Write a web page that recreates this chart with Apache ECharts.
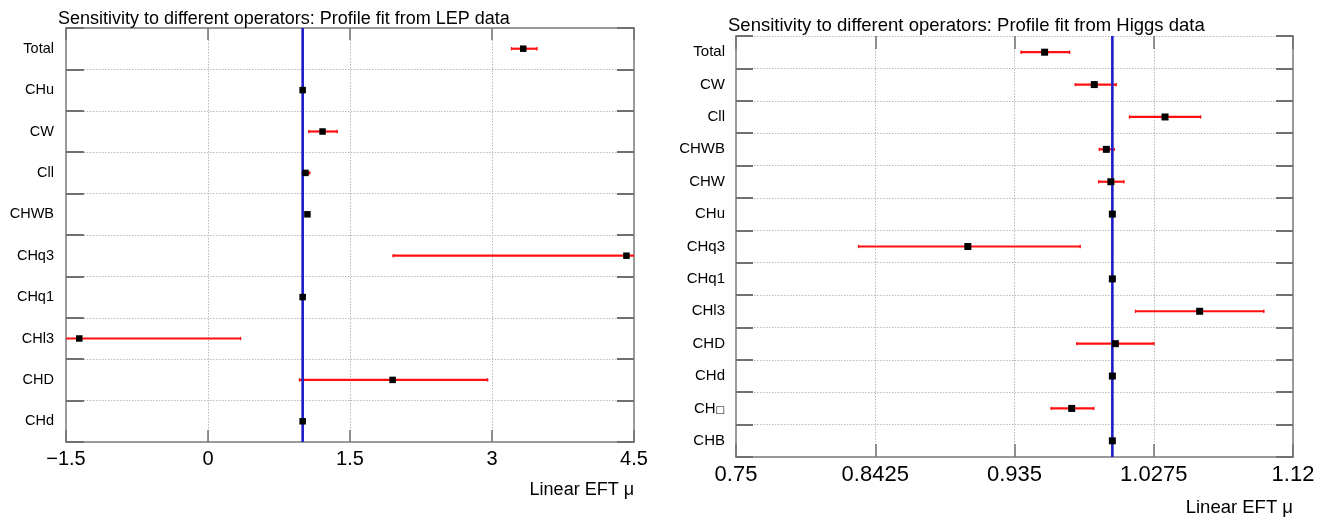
<!DOCTYPE html>
<html>
<head>
<meta charset="utf-8">
<script src="https://cdn.jsdelivr.net/npm/echarts@6/dist/echarts.min.js"></script>
<style>
html,body{margin:0;padding:0;background:#fff;}
#chart{width:1324px;height:518px;}
</style>
</head>
<body>
<div id="chart"></div>
<script>
// ---------- data: LEP profile fit ----------
const lepCats    = ['Total','CHu','CW','Cll','CHWB','CHq3','CHq1','CHl3','CHD','CHd'];
const lepCentral = [3.33, 1.00, 1.21, 1.03, 1.05, 4.42, 1.00, -1.36, 1.95, 1.00];
const lepLow     = [3.20, 1.00, 1.06, 0.99, 1.05, 1.95, 1.00, -3.07, 0.96, 1.00];
const lepHigh    = [3.48, 1.00, 1.37, 1.08, 1.05, 6.90, 1.00, 0.35, 2.96, 1.00];
const lepTicks   = ['\u22121.5','0','1.5','3','4.5'];

// ---------- data: Higgs profile fit ----------
const higgsCats    = ['Total','CW','Cll','CHWB','CHW','CHu','CHq3','CHq1','CHl3','CHD','CHd','CH\u25A1','CHB'];
const higgsCentral = [0.955, 0.988, 1.035, 0.996, 0.999, 1.000, 0.904, 1.000, 1.058, 1.002, 1.000, 0.973, 1.000];
const higgsLow     = [0.939, 0.975, 1.011, 0.991, 0.9905, 1.000, 0.831, 1.000, 1.015, 0.976, 1.000, 0.959, 1.000];
const higgsHigh    = [0.972, 1.003, 1.059, 1.0016, 1.008, 1.000, 0.979, 1.000, 1.101, 1.028, 1.000, 0.988, 1.000];
const higgsTicks   = ['0.75','0.8425','0.935','1.0275','1.12'];

const smValue = [1];

// ---------- styling ----------
const FONT = 'Liberation Sans, Arial, Helvetica, sans-serif';
const FRAME = '#9a9a9a';
const TICK = '#707070';
const GRIDLINE = '#b8b8b8';
const RED = '#ff1010';
const BLUE = '#1c1cc8';

const chart = echarts.init(document.getElementById('chart'), null, {renderer:'canvas'});

function errorBarRender(params, api) {
  const cs = params.coordSys;
  const idx = api.value(2);
  const p1 = api.coord([api.value(0), idx]);
  const p2 = api.coord([api.value(1), idx]);
  let x1 = Math.max(cs.x, Math.min(cs.x + cs.width, p1[0]));
  let x2 = Math.max(cs.x, Math.min(cs.x + cs.width, p2[0]));
  const y = p1[1];
  if (x2 - x1 < 1.5) return null;
  const st = {stroke: RED, lineWidth: 2.2};
  const children = [{type:'line', shape:{x1:x1, y1:y, x2:x2, y2:y}, style:st}];
  if (p1[0] >= cs.x) children.push({type:'line', shape:{x1:x1+0.6, y1:y-1.7, x2:x1+0.6, y2:y+1.7}, style:{stroke:RED, lineWidth:1.2}});
  if (p2[0] <= cs.x + cs.width) children.push({type:'line', shape:{x1:x2-0.6, y1:y-1.7, x2:x2-0.6, y2:y+1.7}, style:{stroke:RED, lineWidth:1.2}});
  return {type:'group', children: children};
}

function smLineRender(params, api) {
  const cs = params.coordSys;
  const x = api.coord([api.value(0), 0])[0];
  return {type:'line', shape:{x1:x, y1:cs.y, x2:x, y2:cs.y + cs.height}, style:{stroke:BLUE, lineWidth:2.6}};
}

function catLabel(v) {
  return v.indexOf('\u25A1') >= 0 ? v.replace('\u25A1', '{box|\u25A1}') : v;
}

const lepMin = -1.5, lepMax = 4.5, lepStep = 1.5;

const option = {
  backgroundColor: '#ffffff',
  animation: false,
  title: [
    {text: 'Sensitivity to different operators: Profile fit from LEP data', left: 58, top: 10, padding: 0,
     textStyle: {fontFamily: FONT, fontSize: 18, fontWeight: 'normal', color: '#000'}},
    {text: 'Sensitivity to different operators: Profile fit from Higgs data', left: 728, top: 16, padding: 0,
     textStyle: {fontFamily: FONT, fontSize: 18.5, fontWeight: 'normal', color: '#000'}}
  ],
  grid: [
    {left: 66, top: 28, width: 568, height: 414, containLabel: false},
    {left: 736, top: 36, width: 557, height: 421, containLabel: false}
  ],
  xAxis: [
    { // 0: LEP bottom
      gridIndex: 0, type: 'value', position: 'bottom', min: lepMin, max: lepMax, interval: lepStep,
      axisLine: {show: true, onZero: false, lineStyle: {color: FRAME, width: 2}},
      axisTick: {show: true, inside: true, length: 12, lineStyle: {color: TICK, width: 1.5}},
      axisLabel: {fontFamily: FONT, fontSize: 20, color: '#000', margin: 7,
        formatter: v => lepTicks[Math.round((v - lepMin) / lepStep)]},
      splitLine: {show: true, lineStyle: {color: GRIDLINE, type: [1.5, 1.5], width: 1}},
      name: 'Linear EFT \u03bc', nameLocation: 'end', nameGap: 0,
      nameTextStyle: {fontFamily: FONT, fontSize: 18, color: '#000', align: 'right', verticalAlign: 'top', padding: [39, 0, 0, 0]}
    },
    { // 1: LEP top
      gridIndex: 0, type: 'value', position: 'top', min: lepMin, max: lepMax, interval: lepStep,
      axisLine: {show: true, onZero: false, lineStyle: {color: FRAME, width: 2}},
      axisTick: {show: true, inside: true, length: 12, lineStyle: {color: TICK, width: 1.5}},
      axisLabel: {show: false}, splitLine: {show: false}
    },
    { // 2: Higgs bottom (tick positions)
      gridIndex: 1, type: 'value', position: 'bottom', min: 0, max: higgsTicks.length - 1, interval: 1,
      axisLine: {show: true, onZero: false, lineStyle: {color: FRAME, width: 2}},
      axisTick: {show: true, inside: true, length: 13, lineStyle: {color: TICK, width: 1.5}},
      axisLabel: {fontFamily: FONT, fontSize: 22, color: '#000', margin: 7,
        formatter: v => higgsTicks[Math.round(v)]},
      splitLine: {show: true, lineStyle: {color: GRIDLINE, type: [1.5, 1.5], width: 1}},
      name: 'Linear EFT \u03bc', nameLocation: 'end', nameGap: 0,
      nameTextStyle: {fontFamily: FONT, fontSize: 18.5, color: '#000', align: 'right', verticalAlign: 'top', padding: [41, 0, 0, 0]}
    },
    { // 3: Higgs top
      gridIndex: 1, type: 'value', position: 'top', min: 0, max: higgsTicks.length - 1, interval: 1,
      axisLine: {show: false, onZero: false},
      axisTick: {show: true, inside: true, length: 13, lineStyle: {color: TICK, width: 1.5}},
      axisLabel: {show: false}, splitLine: {show: false}
    },
    { // 4: Higgs data scale
      gridIndex: 1, type: 'value', position: 'bottom', min: 0.75, max: 1.12, show: false,
      axisLine: {onZero: false}, splitLine: {show: false}
    }
  ],
  yAxis: [
    { // 0: LEP left
      gridIndex: 0, type: 'category', data: lepCats, inverse: true, position: 'left',
      axisLine: {show: true, onZero: false, lineStyle: {color: FRAME, width: 2}},
      axisTick: {show: true, inside: true, length: 18, lineStyle: {color: TICK, width: 2}},
      axisLabel: {fontFamily: FONT, fontSize: 14.5, color: '#000', margin: 12, formatter: catLabel,
        rich: {box: {fontFamily: 'DejaVu Sans', fontSize: 9, color: '#000', verticalAlign: 'bottom'}}},
      splitLine: {show: true, lineStyle: {color: GRIDLINE, type: [1.5, 1.5], width: 1}}
    },
    { // 1: LEP right
      gridIndex: 0, type: 'category', data: lepCats, inverse: true, position: 'right',
      axisLine: {show: true, onZero: false, lineStyle: {color: FRAME, width: 2}},
      axisTick: {show: true, inside: true, length: 17, lineStyle: {color: TICK, width: 2}},
      axisLabel: {show: false}, splitLine: {show: false}
    },
    { // 2: Higgs left
      gridIndex: 1, type: 'category', data: higgsCats, inverse: true, position: 'left',
      axisLine: {show: true, onZero: false, lineStyle: {color: FRAME, width: 2}},
      axisTick: {show: true, inside: true, length: 17, lineStyle: {color: TICK, width: 2}},
      axisLabel: {fontFamily: FONT, fontSize: 15, color: '#000', margin: 11, formatter: catLabel,
        rich: {box: {fontFamily: 'DejaVu Sans', fontSize: 10, color: '#000', verticalAlign: 'bottom', padding: [0,0,1,0]}}},
      splitLine: {show: true, lineStyle: {color: GRIDLINE, type: [1.5, 1.5], width: 1}}
    },
    { // 3: Higgs right
      gridIndex: 1, type: 'category', data: higgsCats, inverse: true, position: 'right',
      axisLine: {show: true, onZero: false, lineStyle: {color: FRAME, width: 2}},
      axisTick: {show: true, inside: true, length: 17, lineStyle: {color: TICK, width: 2}},
      axisLabel: {show: false}, splitLine: {show: false}
    }
  ],
  series: [
    {type: 'custom', name: 'LEP interval', xAxisIndex: 0, yAxisIndex: 0, z: 2, clip: true,
     renderItem: errorBarRender, encode: {x: [0, 1], y: 2},
     data: lepCats.map((c, i) => [lepLow[i], lepHigh[i], i])},
    {type: 'custom', name: 'LEP SM', xAxisIndex: 0, yAxisIndex: 0, z: 3,
     renderItem: smLineRender, encode: {x: 0}, data: smValue.map(v => [v])},
    {type: 'scatter', name: 'LEP best fit', xAxisIndex: 0, yAxisIndex: 0, z: 4,
     symbol: 'rect', symbolSize: 6.5, itemStyle: {color: '#000', opacity: 1},
     data: lepCats.map((c, i) => [lepCentral[i], i])},

    {type: 'custom', name: 'Higgs interval', xAxisIndex: 4, yAxisIndex: 2, z: 2, clip: true,
     renderItem: errorBarRender, encode: {x: [0, 1], y: 2},
     data: higgsCats.map((c, i) => [higgsLow[i], higgsHigh[i], i])},
    {type: 'custom', name: 'Higgs SM', xAxisIndex: 4, yAxisIndex: 2, z: 3,
     renderItem: smLineRender, encode: {x: 0}, data: smValue.map(v => [v])},
    {type: 'scatter', name: 'Higgs best fit', xAxisIndex: 4, yAxisIndex: 2, z: 4,
     symbol: 'rect', symbolSize: 7, itemStyle: {color: '#000', opacity: 1},
     data: higgsCats.map((c, i) => [higgsCentral[i], i])}
  ]
};

chart.setOption(option);
</script>
</body>
</html>
